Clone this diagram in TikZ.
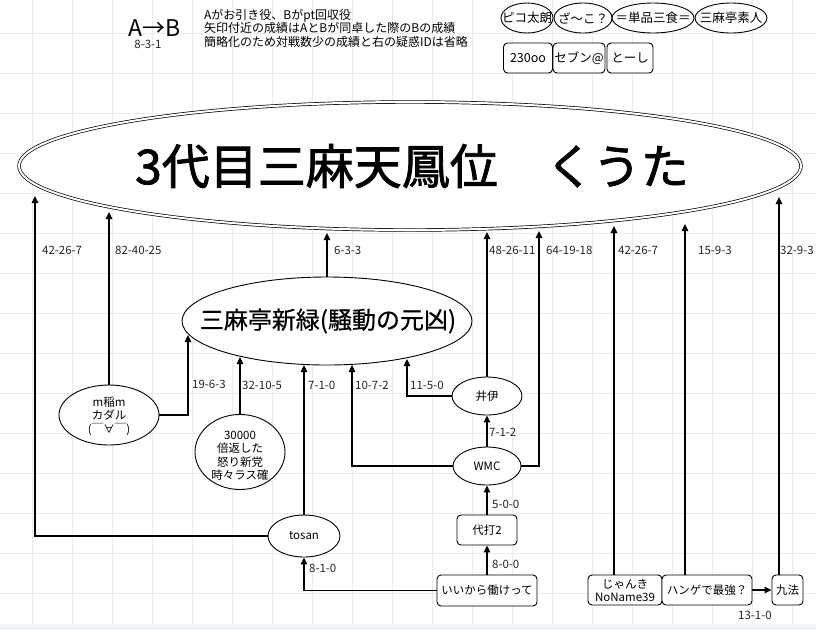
\documentclass[tikz,border=0pt]{standalone}
\usepackage{fontspec}
\setmainfont{Noto Sans CJK JP}
\newfontfamily\titlefont[FakeBold=1.6]{Noto Sans CJK JP}
\newfontfamily\midfont[FakeBold=0.6]{Noto Sans CJK JP}
\usetikzlibrary{arrows.meta,shapes.geometric}
\definecolor{strip}{HTML}{EEF3F8}
\definecolor{gridc}{HTML}{EBEBEB}
\begin{document}
\begin{tikzpicture}[x=1pt,y=-1pt,
  gridline/.style={draw=gridc, line width=0.8pt},
  conn/.style={line width=1.3pt, -{Triangle[length=7pt,width=6.5pt]}},
  oval/.style={ellipse, draw, line width=0.9pt, fill=white, inner sep=0pt},
  rbox/.style={draw, rounded corners=4pt, line width=0.9pt, fill=white, inner sep=0pt, align=center, font=\fontsize{11.5}{13}\selectfont},
  txt/.style={inner sep=0pt, align=center, font=\fontsize{11.5}{13.5}\selectfont},
  toptxt/.style={inner sep=0pt, align=center, font=\fontsize{12.5}{14}\selectfont},
  lab/.style={inner sep=0pt, anchor=west, font=\fontsize{11.5}{12}\selectfont, text=black!85},
]
\fill[white] (0,0) rectangle (816,630);
\useasboundingbox (0,0) rectangle (816,630);
\fill[strip] (0,624) rectangle (816,630);
\foreach \x in {32,72,...,792} \draw[gridline] (\x,0) -- (\x,624);
\foreach \y in {33,73,...,593} \draw[gridline] (0,\y) -- (816,\y);

% legend
\node[inner sep=0pt, font=\fontsize{23}{25}\selectfont] (ab) at (155,28) {A→B};
\node[inner sep=0pt, font=\fontsize{11.5}{12}\selectfont, text=black!85] (abs) at (148,44) {8-3-1};
\node[inner sep=0pt, anchor=north west, align=left, font=\fontsize{12}{13.5}\selectfont] (legend) at (204,9)
  {Aがお引き役、Bがpt回収役\\矢印付近の成績はAとBが同卓した際のBの成績\\簡略化のため対戦数少の成績と右の疑惑IDは省略};

% top right
\node[oval, minimum width=52, minimum height=30] (p1) at (527,18) {};
\node[toptxt] (p1t) at (p1) {ピコ太朗};
\node[oval, minimum width=58, minimum height=30] (p2) at (583,18) {};
\node[toptxt] (p2t) at (p2) {ざ〜こ？};
\node[oval, minimum width=82, minimum height=30] (p3) at (653,18) {};
\node[toptxt] (p3t) at (p3) {＝単品三食＝};
\node[oval, minimum width=72, minimum height=30] (p4) at (731,18) {};
\node[toptxt] (p4t) at (p4) {三麻亭素人};
\node[rbox, font=\fontsize{12.5}{14}\selectfont, minimum width=49, minimum height=30] (b1) at (528,58) {230oo};
\node[rbox, font=\fontsize{12.5}{14}\selectfont, minimum width=52, minimum height=30] (b2) at (579,58) {セブン@};
\node[rbox, font=\fontsize{12.5}{14}\selectfont, minimum width=46, minimum height=30] (b3) at (630,58) {とーし};

% main nodes
\node[oval, double, double distance=2pt, line width=0.7pt, minimum width=782, minimum height=128] (big) at (410,166) {};
\node[inner sep=0pt, font=\fontsize{48}{50}\titlefont] (title) at (412,166) {3代目三麻天鳳位　くうた};

\node[oval, minimum width=290, minimum height=88] (mid) at (327,321) {};
\node[inner sep=0pt, font=\fontsize{24}{26}\midfont] (midtxt) at (328,321) {三麻亭新緑(騒動の元凶)};

\node[oval, minimum width=100, minimum height=60] (mm) at (109,415) {};
\node[txt] (mmt) at (109,416) {m稲m\\カダル\\(￣∀￣)};
\node[oval, minimum width=90, minimum height=75] (k3) at (240,452) {};
\node[txt] (k3t) at (240,456) {30000\\倍返した\\怒り新党\\時々ラス確};
\node[oval, minimum width=72, minimum height=42, font=\fontsize{11.5}{13}\selectfont] (tosan) at (304,536) {tosan};
\node[oval, minimum width=70, minimum height=38, font=\fontsize{11.5}{13}\selectfont] (ii) at (487,396) {井伊};
\node[oval, minimum width=68, minimum height=38, font=\fontsize{11.5}{13}\selectfont] (wmc) at (487,466) {WMC};
\node[rbox, minimum width=60, minimum height=30] (d2) at (487,530) {代打2};
\node[rbox, minimum width=100, minimum height=31] (ik) at (487,590.5) {いいから働けって};
\node[rbox, minimum width=74, minimum height=30] (jk) at (625,590) {じゃんき\\NoName39};
\node[rbox, minimum width=90, minimum height=30] (hg) at (707,590) {ハンゲで最強？};
\node[rbox, minimum width=31, minimum height=30] (kh) at (787.5,590) {九法};

% arrow end coordinates
\coordinate (ta) at (35,196);
\coordinate (tb) at (109,212);
\coordinate (tc) at (327,233);
\coordinate (td) at (487,232);
\coordinate (te) at (539,231);
\coordinate (tf) at (614,226);
\coordinate (tg) at (685,224);
\coordinate (th) at (779,197);
\coordinate (m1) at (188,335);
\coordinate (m2) at (240,357);
\coordinate (m3) at (304,365);
\coordinate (m4) at (352,365);
\coordinate (m5) at (407,359);

% connectors to big
\draw[conn] (tosan.west) -| (ta);
\draw[conn] (mm.north) -- (tb);
\draw[conn] (mid.north) -- (tc);
\draw[conn] (ii.north) -- (td);
\draw[conn] (wmc.east) -| (te);
\draw[conn] (tf |- jk.north) -- (tf);
\draw[conn] (tg |- hg.north) -- (tg);
\draw[conn] (th |- kh.north) -- (th);
% connectors to mid
\draw[conn] (mm.east) -| (m1);
\draw[conn] (k3.north) -- (m2);
\draw[conn] (tosan.north) -- (m3);
\draw[conn] (wmc.west) -| (m4);
\draw[conn] (ii.west) -| (m5);
% others
\draw[conn] (wmc.north) -- (ii.south);
\draw[conn] (d2.north) -- (wmc.south);
\draw[conn] (ik.north) -- (d2.south);
\draw[conn] (ik.west) -| (tosan.south);
\draw[conn] (hg.east) -- (kh.west);

% labels
\node[lab] (l1) at (42,250) {42-26-7};
\node[lab] (l2) at (115,250) {82-40-25};
\node[lab] (l3) at (334,250) {6-3-3};
\node[lab] (l4) at (489,250) {48-26-11};
\node[lab] (l5) at (546,250) {64-19-18};
\node[lab] (l6) at (618,250) {42-26-7};
\node[lab] (l7) at (698,250) {15-9-3};
\node[lab] (l8) at (780,250) {32-9-3};
\node[lab] (l9) at (192,384) {19-6-3};
\node[lab] (l10) at (242,385) {32-10-5};
\node[lab] (l11) at (308,385) {7-1-0};
\node[lab] (l12) at (355,385) {10-7-2};
\node[lab] (l13) at (410,385) {11-5-0};
\node[lab] (l14) at (489,432) {7-1-2};
\node[lab] (l15) at (492,504) {5-0-0};
\node[lab] (l16) at (492,564) {8-0-0};
\node[lab] (l17) at (309,568) {8-1-0};
\node[lab] (l18) at (738,615) {13-1-0};
\end{tikzpicture}
\end{document}
